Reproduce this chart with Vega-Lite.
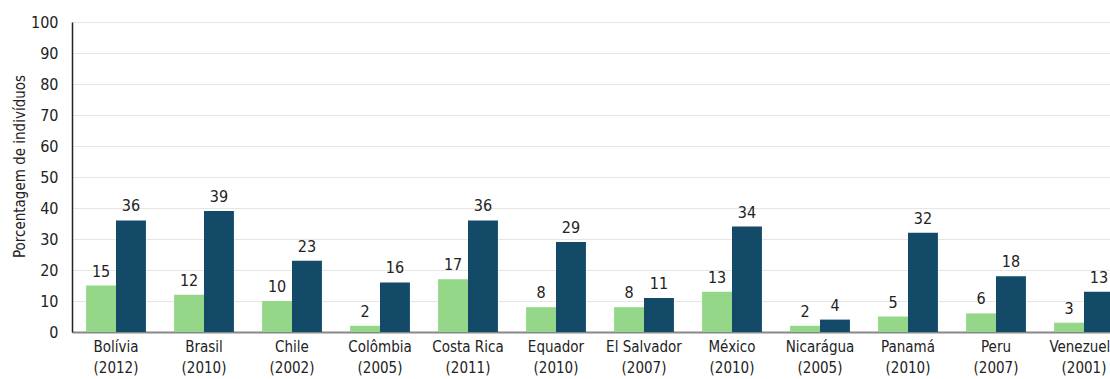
{
  "$schema": "https://vega.github.io/schema/vega-lite/v6.json",
  "autosize": {"type": "none"},
  "padding": {"left": 72, "top": 22, "right": 0, "bottom": 47},
  "width": 1056,
  "height": 310,
  "title": {"text": "b. Acesso a computador", "anchor": "start", "dx": -70, "offset": 16, "fontSize": 14, "fontWeight": "bold", "color": "#222222"},
  "config": {
    "view": {"stroke": null},
    "font": "DejaVu Sans Condensed, Roboto, sans-serif"
  },
  "data": {"values": [
    {"pais": "Bolívia (2012)", "grupo": "A", "valor": 15},
    {"pais": "Bolívia (2012)", "grupo": "B", "valor": 36},
    {"pais": "Brasil (2010)", "grupo": "A", "valor": 12},
    {"pais": "Brasil (2010)", "grupo": "B", "valor": 39},
    {"pais": "Chile (2002)", "grupo": "A", "valor": 10},
    {"pais": "Chile (2002)", "grupo": "B", "valor": 23},
    {"pais": "Colômbia (2005)", "grupo": "A", "valor": 2},
    {"pais": "Colômbia (2005)", "grupo": "B", "valor": 16},
    {"pais": "Costa Rica (2011)", "grupo": "A", "valor": 17},
    {"pais": "Costa Rica (2011)", "grupo": "B", "valor": 36},
    {"pais": "Equador (2010)", "grupo": "A", "valor": 8},
    {"pais": "Equador (2010)", "grupo": "B", "valor": 29},
    {"pais": "El Salvador (2007)", "grupo": "A", "valor": 8},
    {"pais": "El Salvador (2007)", "grupo": "B", "valor": 11},
    {"pais": "México (2010)", "grupo": "A", "valor": 13},
    {"pais": "México (2010)", "grupo": "B", "valor": 34},
    {"pais": "Nicarágua (2005)", "grupo": "A", "valor": 2},
    {"pais": "Nicarágua (2005)", "grupo": "B", "valor": 4},
    {"pais": "Panamá (2010)", "grupo": "A", "valor": 5},
    {"pais": "Panamá (2010)", "grupo": "B", "valor": 32},
    {"pais": "Peru (2007)", "grupo": "A", "valor": 6},
    {"pais": "Peru (2007)", "grupo": "B", "valor": 18},
    {"pais": "Venezuela (2001)", "grupo": "A", "valor": 3},
    {"pais": "Venezuela (2001)", "grupo": "B", "valor": 13}
  ]},
  "encoding": {
    "x": {
      "field": "pais", "type": "nominal", "sort": null,
      "scale": {"paddingInner": 0.32, "paddingOuter": 0.16},
      "axis": {
        "title": null, "labelAngle": 0, "ticks": false,
        "domainColor": "#888888", "domainWidth": 2,
        "labelFontSize": 15, "labelColor": "#222222", "labelPadding": 7,
        "labelLineHeight": 21, "labelBaseline": "top",
        "labelExpr": "[substring(datum.label, 0, indexof(datum.label, ' (')), substring(datum.label, indexof(datum.label, ' (') + 1)]"
      }
    },
    "xOffset": {"field": "grupo", "type": "nominal", "scale": {"paddingInner": 0}},
    "y": {
      "field": "valor", "type": "quantitative",
      "scale": {"domain": [0, 100]},
      "axis": {
        "title": "Porcentagem de indivíduos", "titleFontSize": 15, "titleFontWeight": "normal", "titleColor": "#222222",
        "titleX": -53, "titleY": 144, "titleBaseline": "middle", "titleAngle": -90,
        "values": [0, 10, 20, 30, 40, 50, 60, 70, 80, 90, 100],
        "ticks": false, "labelPadding": 14, "labelFontSize": 16, "labelColor": "#222222",
        "domainColor": "#222222", "domainWidth": 1.5,
        "gridColor": "#e6e6e6", "gridWidth": 1
      }
    }
  },
  "layer": [
    {
      "mark": {"type": "bar"},
      "encoding": {
        "color": {"field": "grupo", "type": "nominal", "legend": null,
          "scale": {"domain": ["A", "B"], "range": ["#94d788", "#134a68"]}}
      }
    },
    {
      "mark": {"type": "text", "baseline": "bottom", "dy": -6, "fontSize": 16, "color": "#222222"},
      "encoding": {"text": {"field": "valor", "type": "quantitative"}}
    }
  ]
}
